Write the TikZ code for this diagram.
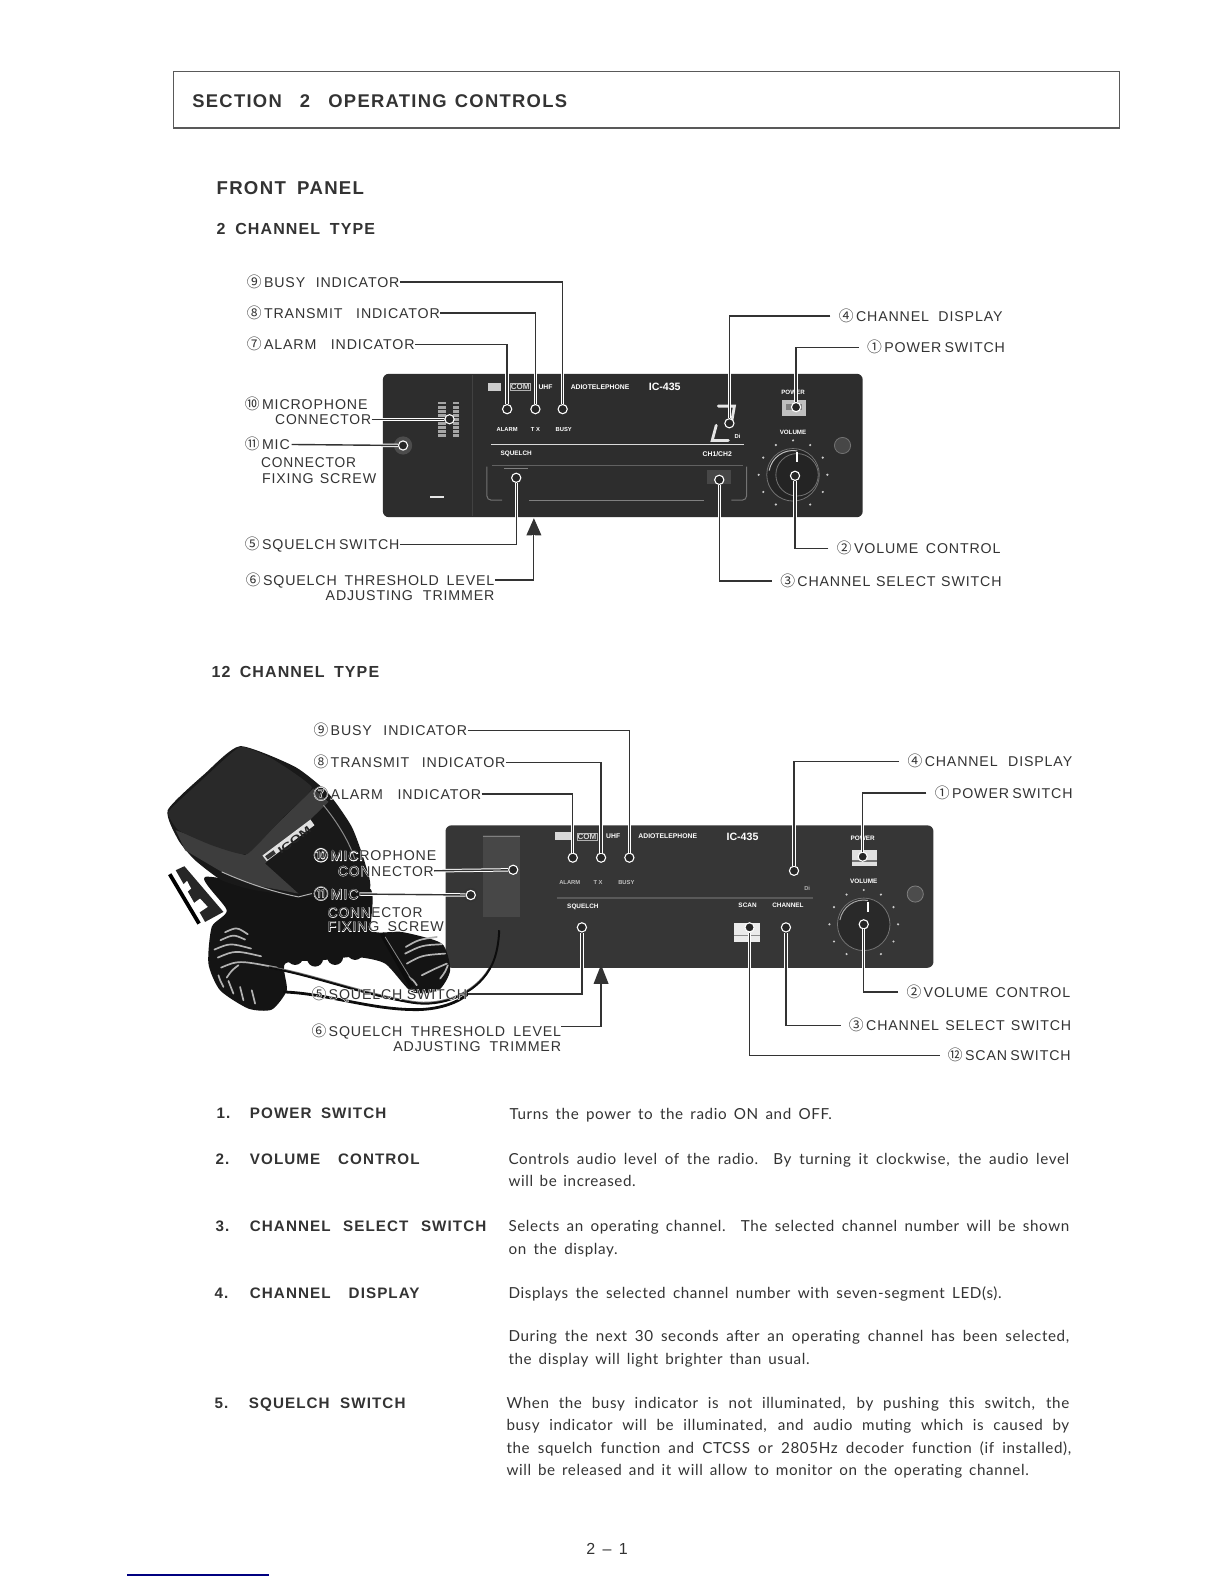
\documentclass[tikz,border=0pt]{standalone}
\usepackage{fontspec}
\usepackage{graphicx}
\setmainfont{Liberation Sans}
\newfontfamily\lfont[LetterSpace=6]{Liberation Sans}
\newfontfamily\hfont[LetterSpace=6,FakeBold=5]{Liberation Sans}
\newfontfamily\bfontx[LetterSpace=7]{Liberation Sans Bold}
\newfontfamily\pfontx{Liberation Sans Bold}
\newfontfamily\bodyf[LetterSpace=4]{Lato}
\newfontfamily\dfont{Noto Sans CJK JP}
\newfontfamily\dhfont[FakeBold=5]{Noto Sans CJK JP}
\newdimen\upx \upx=0.50495pt
\newcommand{\cdf}{\dfont\fontsize{7.4}{9}\selectfont}
\newcommand{\cdh}{\dhfont\fontsize{7.4}{9}\selectfont}
\newcommand{\cd}[1]{\makebox[17\upx][l]{\cdf #1}}
\newcommand{\fit}[2]{\makebox[#1\upx][s]{#2}}
\newcommand{\fitone}[2]{\resizebox{#1\upx}{\height}{#2}}
\definecolor{ink}{HTML}{333333}
\definecolor{pan}{HTML}{2D2D2D}
\definecolor{pan2}{HTML}{363636}
\definecolor{seam}{HTML}{414141}
\tikzset{
 lab/.style={font=\lfont\fontsize{7.1}{9}\selectfont,text=ink,inner sep=0pt,text height=5.2pt,text depth=0pt},
 halo/.style={font=\hfont\fontsize{7.1}{9}\selectfont\let\cdf\cdh,text=white,inner sep=0pt,text height=5.2pt,text depth=0pt},
 head/.style={font=\bfontx\fontsize{7.6}{9}\selectfont,text=ink,inner sep=0pt,text height=5.5pt,text depth=0pt,anchor=west},
 body/.style={font=\bodyf\fontsize{7.6}{9}\selectfont,text=ink,inner sep=0pt,text height=5.4pt,text depth=0pt,anchor=west},
 ptx/.style={font=\pfontx\fontsize{2.9}{3}\selectfont,text=white,inner sep=0pt},
 pinp/.style={circle,fill=black!85,draw=white,line width=.55pt,minimum size=4.6pt,inner sep=0pt},
 lead/.style={draw=ink,line width=.7pt,preaction={draw=white,line width=1.7pt}},
 stripe/.style={draw=black!30,line width=.85pt,line cap=round},
}
\newcommand{\clab}[6]{\pgfmathsetmacro\tw{#3-#2-17}\node[lab,anchor=west] (#1) at (#2,#4) {\cd{#5}\fit{\tw}{#6}};}
\newcommand{\hclab}[6]{\pgfmathsetmacro\tw{#3-#2-17}\node[halo,anchor=west] (#1h) at (#2,#4) {\cd{#5}\fit{\tw}{#6}};\node[lab,anchor=west] (#1) at (#2,#4) {\cd{#5}\fit{\tw}{#6}};}
\newcommand{\plab}[5]{\pgfmathsetmacro\tw{#3-#2}\node[lab,anchor=west] (#1) at (#2,#4) {\fit{\tw}{#5}};}
\newcommand{\plabo}[5]{\pgfmathsetmacro\tw{#3-#2}\node[lab,anchor=west] (#1) at (#2,#4) {\fitone{\tw}{#5}};}
\newcommand{\hplab}[5]{\pgfmathsetmacro\tw{#3-#2}\node[halo,anchor=west] (#1h) at (#2,#4) {\fit{\tw}{#5}};\node[lab,anchor=west] (#1) at (#2,#4) {\fit{\tw}{#5}};}
\newcommand{\hplabo}[5]{\pgfmathsetmacro\tw{#3-#2}\node[halo,anchor=west] (#1h) at (#2,#4) {\fitone{\tw}{#5}};\node[lab,anchor=west] (#1) at (#2,#4) {\fitone{\tw}{#5}};}
\newcommand{\btxt}[5]{\pgfmathsetmacro\tw{#3-#2}\node[body] (#1) at (#2,#4) {\fit{\tw}{#5}};}
\newcommand{\htxt}[5]{\pgfmathsetmacro\tw{#3-#2}\node[head] (#1) at (#2,#4) {\fit{\tw}{#5}};}
\begin{document}
\begin{tikzpicture}[x=0.50495pt,y=-0.50495pt]
\useasboundingbox (0,0) rectangle (1212,1568);
\fill[white] (0,0) rectangle (1212,1568);
% header
\node[draw=black!65,line width=.6pt,minimum width=473pt,minimum height=28.3pt,inner sep=0pt,anchor=north west] (hdrbox) at (171,70) {};
\node[head,font=\bfontx\fontsize{9.2}{12}\selectfont,text height=6.6pt] (hdr) at (190,100) {\fit{371}{SECTION\hskip .9em plus 1fil 2\hskip .9em plus 1fil OPERATING\hskip .4em plus .5fil CONTROLS}};
\node[head,font=\bfontx\fontsize{9.3}{12}\selectfont,text height=6.6pt] (fp) at (214,186) {\fit{146}{FRONT PANEL}};
\node[head,font=\bfontx\fontsize{8}{12}\selectfont,text height=5.8pt] (ch2) at (214,226) {\fit{157}{2 CHANNEL TYPE}};
\node[head,font=\bfontx\fontsize{8}{12}\selectfont,text height=5.8pt] (ch12) at (209,665) {\fit{166}{12 CHANNEL TYPE}};

% ================= PANEL 1
\fill[pan,rounded corners=3pt] (379,370) rectangle (854,512);
\draw[seam,line width=.4pt] (468,371) -- (468,511);
\draw[black!55,line width=.5pt,rounded corners=2pt] (482,462) -- (482,495) -- (497,495);
\draw[black!55,line width=.5pt,rounded corners=2pt] (739,462) -- (739,495) -- (724,495);
\draw[black!50,line width=.5pt] (524,495) -- (697,495);
\draw[black!62,line width=.4pt] (487,461) -- (735,461);
\draw[black!15,line width=.9pt] (486,440) -- (736,440);
\fill[black!20] (483,379) rectangle (496,387);
\node[font=\pfontx\fontsize{4}{4}\selectfont,text=white!85!black,draw=white!70!black,line width=.2pt,inner sep=.3pt] (logo1) at (515,383) {COM};
\node[ptx,font=\pfontx\fontsize{3.4}{4}\selectfont] (uhf1) at (540,383) {UHF};
\node[ptx,font=\pfontx\fontsize{3.4}{4}\selectfont] (rad1) at (594,383) {ADIOTELEPHONE};
\node[ptx,font=\pfontx\fontsize{5.3}{6}\selectfont] (ic1) at (658,383) {IC-435};
\node[ptx] (al1) at (502,425) {ALARM};
\node[ptx] (tx1) at (530,425) {T X};
\node[ptx] (bu1) at (558,425) {BUSY};
\node[ptx,font=\pfontx\fontsize{3.2}{4}\selectfont] (sq1) at (511,449) {SQUELCH};
\node[ptx,font=\pfontx\fontsize{3.4}{4}\selectfont] (cc1) at (710,450) {CH1/CH2};
\node[ptx,font=\pfontx\fontsize{3.1}{4}\selectfont] (pw1) at (785,388) {POWER};
\node[ptx,font=\pfontx\fontsize{3.1}{4}\selectfont] (vo1) at (785,428) {VOLUME};
\node[ptx] (di1) at (730,432) {Di};
% vents
\foreach \y in {398,402,...,430}{\fill[black!35] (434,\y) rectangle (441,\y+2.4);\fill[black!35] (448,\y) rectangle (454,\y+2.4);}
\fill[black!10] (426,491) rectangle (440,492.5);
% digit
\draw[white!90!black,line width=1.4pt,line cap=round] (711,402) -- (727,402) -- (724,419);
\draw[white!90!black,line width=1.4pt,line cap=round] (709,421) -- (705,436) -- (721,436);
% power button
\fill[black!25] (774,396) rectangle (798,412);
\fill[black!50] (778,400) rectangle (794,406);
% knob
\fill[black!86] (785,470) circle (26);
\draw[black!55,line width=.4pt] (785,470) circle (26);
\draw[black!25,line width=.5pt] (761.4,465.8) arc (190:280:24);
\draw[black!55,line width=.4pt] (789,470) circle (21);
\draw[white,line width=1pt] (789,447) -- (789,457);
\foreach \a in {-90,-60,-30,0,30,60,120,150,180,-150,-120}{\fill[white!80!black] (785,470) ++(\a:34) circle (1.2);}
% screws
\fill[black!70] (399,441) circle (9);
\fill[black!72] (834,441) circle (8);
\draw[black!55,line width=.4pt] (834,441) circle (8);
\fill[black!72] (700,465) rectangle (724,479);
\draw[black!50,line width=.4pt] (499,464) -- (523,464);
% pins
\node[pinp] (a9) at (557,405) {};
\node[pinp] (a8) at (530,405) {};
\node[pinp] (a7) at (502,405) {};
\node[pinp] (a10) at (445,415) {};
\node[pinp] (a11) at (399,441) {};
\node[pinp] (a5) at (511,473) {};
\node[pinp] (a4) at (722,419) {};
\node[pinp] (a1) at (788,403) {};
\node[pinp] (a2) at (787,471) {};
\node[pinp] (a3) at (712,475) {};
\coordinate (a6) at (528,530);
\fill[ink] (528.5,513) -- (536,530) -- (521,530) -- cycle;
% labels panel 1
\clab{l9}{244}{395}{279}{⑨}{BUSY INDICATOR}
\clab{l8}{244}{435}{310}{⑧}{TRANSMIT INDICATOR}
\clab{l7}{244}{410}{341}{⑦}{ALARM INDICATOR}
\clab{l10}{242}{361}{400}{⑩}{MICROPHONE\hskip 0pt plus 1fil}
\plabo{l10b}{272}{367}{415}{CONNECTOR}
\clab{l11}{242}{288}{440}{⑪}{MIC\hskip 0pt plus 1fil}
\plabo{l11b}{258}{352}{458}{CONNECTOR}
\plab{l11c}{259}{372}{473}{FIXING SCREW}
\clab{l5}{242}{395}{539}{⑤}{SQUELCH SWITCH}
\clab{l6}{243}{489}{574}{⑥}{SQUELCH THRESHOLD LEVEL}
\plab{l6b}{322}{489}{589}{ADJUSTING TRIMMER}
\clab{l4}{830}{992}{313}{④}{CHANNEL DISPLAY}
\clab{l1}{858}{992}{344}{①}{POWER SWITCH}
\clab{l2}{828}{990}{543}{②}{VOLUME CONTROL}
\clab{l3}{772}{991}{575}{③}{CHANNEL SELECT SWITCH}
% connectors panel 1
\draw[lead] (l9.east) -| (a9);
\draw[lead] (l8.east) -| (a8);
\draw[lead] (l7.east) -| (a7);
\draw[lead] (l10b.east) -- (a10);
\draw[lead] (l11.east) -- (a11);
\draw[lead] (l5.east) -| (a5);
\draw[lead] (l6.east) -| (a6);
\draw[lead] ([xshift=-4pt]l4.west) -| (a4);
\draw[lead] ([xshift=-4pt]l1.west) -| (a1);
\draw[lead] ([xshift=-4pt]l2.west) -| (a2);
\draw[lead] ([xshift=-4pt]l3.west) -| (a3);

% ================= PANEL 2
\fill[pan2,rounded corners=3pt] (441,817) rectangle (924,958);
\fill[black!72] (478,827) rectangle (515,908);
\draw[black!50,line width=.6pt] (478,828) -- (515,828);
\fill[black!15] (549,824) rectangle (566,832);
\node[font=\pfontx\fontsize{4}{4}\selectfont,text=white!85!black,draw=white!70!black,line width=.2pt,inner sep=.3pt] (logo2) at (581,828) {COM};
\node[ptx,font=\pfontx\fontsize{3.4}{4}\selectfont] (uhf2) at (607,828) {UHF};
\node[ptx,font=\pfontx\fontsize{3.4}{4}\selectfont] (rad2) at (661,828) {ADIOTELEPHONE};
\node[ptx,font=\pfontx\fontsize{5.3}{6}\selectfont] (ic2) at (735,828) {IC-435};
\node[ptx,text=black!25] (al2) at (564,874) {ALARM};
\node[ptx,text=black!25] (tx2) at (592,874) {T X};
\node[ptx,text=black!25] (bu2) at (620,874) {BUSY};
\node[ptx,font=\pfontx\fontsize{3.2}{4}\selectfont] (sq2) at (577,898) {SQUELCH};
\node[ptx,font=\pfontx\fontsize{3.2}{4}\selectfont] (sc2) at (740,896) {SCAN};
\node[ptx,font=\pfontx\fontsize{3.2}{4}\selectfont] (ch2l) at (780,896) {CHANNEL};
\node[ptx,font=\pfontx\fontsize{3.2}{4}\selectfont] (pw2) at (854,830) {POWER};
\node[ptx,font=\pfontx\fontsize{3.2}{4}\selectfont] (vo2) at (855,872) {VOLUME};
\node[ptx,text=black!30] (di2) at (799,879) {Di};
\draw[black!65,line width=.8pt] (551,889) -- (805,889);
\fill[black!12] (843,841) rectangle (868,857);
\fill[black!55] (843,851) rectangle (868,853);
\fill[black!8] (727,914) rectangle (752,932);
\fill[black!45] (727,926) rectangle (752,927);
\fill[black!84] (855,915) circle (26);
\draw[black!55,line width=.4pt] (855,915) circle (26);
\draw[black!35,line width=.5pt] (831.4,910.8) arc (190:280:24);
\draw[white,line width=1pt] (859,893) -- (859,903);
\foreach \a in {-90,-60,-30,0,30,60,120,150,180,-150,-120}{\fill[white!80!black] (855,915) ++(\a:34) circle (1.2);}
\fill[black!70] (906,885) circle (8);
\draw[black!50,line width=.4pt] (906,885) circle (8);
\fill[black!80] (466,886) circle (7);

% ----- microphone, in 1/3 px units of the full size image
\begin{scope}[shift={(153.5,722.8)},x=.16667pt,y=-.16667pt]
 % bracket
 \fill[black!85] (62,420) -- (88,408) -- (205,545) -- (150,575) -- cycle;
 \draw[black,line width=1.9pt] (44,432) -- (132,580);
 \fill[white] (108,525) -- (135,505) -- (158,530) -- (128,550) -- cycle;
 \fill[white] (82,465) -- (96,452) -- (108,475) -- (94,487) -- cycle;
 % under mass
 \fill[black!92] plot[smooth cycle,tension=.4] coordinates {(150,440) (400,480) (640,470) (650,600) (740,605) (860,640) (885,720) (850,780) (770,785) (690,700) (600,680) (500,690) (390,700) (395,780) (350,838) (280,835) (195,780) (160,700) (170,590) (215,540)};
 \foreach \cx/\cy in {420/680,480/685,540/680,600/665}{\fill[black!92] (\cx,\cy) circle (24);}
 % head
 \fill[black!90] plot[smooth cycle,tension=.35] coordinates {(38,240) (150,130) (255,48) (420,110) (520,190) (590,290) (630,400) (640,480) (470,500) (300,480) (200,450) (120,390) (70,330)};
 % band
 \fill[black!76] (62,300) -- (270,375) -- (475,175) -- (520,215) -- (330,400) -- (430,490) -- (300,465) -- (200,425) -- (90,360) -- cycle;
 \draw[black!30,line width=.5pt] (200,425) .. controls (300,470) and (380,490) .. (430,500) -- (470,490);
 \draw[black!45,line width=.5pt] (505,225) .. controls (550,280) and (585,340) .. (600,390);
 % grille
 \fill[black!84] plot[smooth cycle,tension=.25] coordinates {(40,245) (140,150) (255,50) (350,85) (470,172) (380,265) (275,372) (170,345) (70,300)};
 % badge
 \fill[black!12] (322,376) -- (466,268) -- (478,285) -- (335,393) -- cycle;
 \fill[black!80] (330,378) -- (355,360) -- (362,370) -- (338,388) -- cycle;
 \node[font=\pfontx\fontsize{5}{5}\selectfont,text=black!85,rotate=37,inner sep=0pt] (micbrand) at (418,330) {\fitone{38}{ICOM}};
 % coil stripes
 \foreach \xa/\ya/\xb/\yb/\xc/\yc in {210/606/245/590/278/612,196/630/235/612/270/628,178/658/225/638/288/655,188/682/240/660/318/678,198/712/250/690/365/712,215/742/230/720/250/705,190/735/195/750/205/770,220/752/225/770/235/790,255/770/260/790/265/810,290/780/295/800/300/820}
  {\draw[stripe] (\xa,\ya) .. controls (\xb,\yb) .. (\xc,\yc);}
 \foreach \xa/\ya/\xb/\yb/\xc/\yc in {752/650/790/628/845/620,750/670/800/645/860/642,755/700/800/675/870/670,800/735/840/715/875/700,855/745/870/725/878/705,760/740/775/750/785/765}
  {\draw[stripe] (\xa,\ya) .. controls (\xb,\yb) .. (\xc,\yc);}
 % long cord and cable
 \draw[black!55,line width=1.2pt] (340,710) .. controls (480,735) and (620,790) .. (770,815) .. controls (860,830) and (960,790) .. (1003,715);
 \draw[black!95,line width=1pt] (340,712) .. controls (480,737) and (620,792) .. (770,817) .. controls (860,832) and (960,792) .. (1003,717) .. controls (1020,690) and (1030,650) .. (1032,600);
 \draw[black!95,line width=1.4pt] (385,785) .. controls (520,790) and (650,840) .. (790,838) .. controls (860,836) and (910,815) .. (940,790);
 \draw[black!95,line width=2.3pt] (680,610) -- (770,770);
 \draw[black!45,line width=.4pt] (690,620) -- (770,750);
\end{scope}

% pins panel 2
\node[pinp] (b9) at (623,849) {};
\node[pinp] (b8) at (595,849) {};
\node[pinp] (b7) at (567,849) {};
\node[pinp] (b10) at (508,861) {};
\node[pinp] (b11) at (466,886) {};
\node[pinp] (b5) at (576,918) {};
\node[pinp] (b4) at (786,862) {};
\node[pinp] (b1) at (854,848) {};
\node[pinp] (b2) at (855,915) {};
\node[pinp] (b3) at (778,918) {};
\node[pinp] (b12) at (742,918) {};
\coordinate (b6) at (595,974);
\fill[ink] (595,955) -- (602.5,974) -- (587.5,974) -- cycle;
% labels panel 2
\clab{m9}{310}{462}{723}{⑨}{BUSY INDICATOR}
\clab{m8}{310}{500}{755}{⑧}{TRANSMIT INDICATOR}
\hclab{m7}{310}{476}{786}{⑦}{ALARM INDICATOR}
\hclab{m10}{310}{427}{847}{⑩}{MICROPHONE\hskip 0pt plus 1fil}
\hplabo{m10b}{334}{429}{862}{CONNECTOR}
\hclab{m11}{310}{355}{885}{⑪}{MIC\hskip 0pt plus 1fil}
\hplabo{m11b}{324}{418}{903}{CONNECTOR}
\hplab{m11c}{324}{439}{917}{FIXING SCREW}
\hclab{m5}{308}{462}{984}{⑤}{SQUELCH SWITCH}
\clab{m6}{308}{555}{1021}{⑥}{SQUELCH THRESHOLD LEVEL}
\plab{m6b}{389}{555}{1036}{ADJUSTING TRIMMER}
\clab{m4}{898}{1061}{754}{④}{CHANNEL DISPLAY}
\clab{m1}{925}{1059}{785}{①}{POWER SWITCH}
\clab{m2}{897}{1059}{982}{②}{VOLUME CONTROL}
\clab{m3}{840}{1060}{1015}{③}{CHANNEL SELECT SWITCH}
\clab{m12}{938}{1059}{1045}{⑫}{SCAN SWITCH}
% connectors panel 2
\draw[lead] (m9.east) -| (b9);
\draw[lead] (m8.east) -| (b8);
\draw[lead] (m7.east) -| (b7);
\draw[lead] (m10b.east) -- (b10);
\draw[lead] (m11.east) -- (b11);
\draw[lead] (m5.east) -| (b5);
\draw[lead] ([yshift=2.5pt]m6.east) -| (b6);
\draw[lead] ([xshift=-4pt]m4.west) -| (b4);
\draw[lead] ([xshift=-4pt]m1.west) -| (b1);
\draw[lead] ([xshift=-4pt]m2.west) -| (b2);
\draw[lead] ([xshift=-4pt]m3.west) -| (b3);
\draw[lead] ([xshift=-4pt]m12.west) -| (b12);

% descriptions
\htxt{n1}{214}{226}{1102}{1.}
\htxt{t1}{247}{382}{1102}{POWER SWITCH}
\htxt{n2}{213}{225}{1147}{2.}
\htxt{t2}{247}{415}{1147}{VOLUME CONTROL}
\htxt{n3}{213}{225}{1214}{3.}
\htxt{t3}{247}{481}{1214}{CHANNEL SELECT SWITCH}
\htxt{n4}{212}{224}{1280}{4.}
\htxt{t4}{247}{415}{1280}{CHANNEL DISPLAY}
\htxt{n5}{212}{224}{1389}{5.}
\htxt{t5}{246}{401}{1389}{SQUELCH SWITCH}
\btxt{b1a}{504}{823}{1103}{Turns the power to the radio ON and OFF.}
\btxt{b2a}{503}{1058}{1147}{Controls audio level of the radio.\hskip 1em By turning it clockwise, the audio level}
\btxt{b2b}{503}{629}{1169}{will be increased.}
\btxt{b3a}{503}{1058}{1214}{Selects an operating channel.\hskip 1em The selected channel number will be shown}
\btxt{b3b}{503}{611}{1236}{on the display.}
\btxt{b4a}{503}{991}{1280}{Displays the selected channel number with seven-segment LED(s).}
\btxt{b4b}{503}{1058}{1323}{During the next 30 seconds after an operating channel has been selected,}
\btxt{b4c}{503}{801}{1345}{the display will light brighter than usual.}
\btxt{b5a}{501}{1058}{1389}{When the busy indicator is not illuminated, by pushing this switch, the}
\btxt{b5b}{501}{1058}{1411}{busy indicator will be illuminated, and audio muting which is caused by}
\btxt{b5c}{501}{1060}{1433}{the squelch function and CTCSS or 2805Hz decoder function (if installed),}
\btxt{b5d}{501}{1018}{1455}{will be released and it will allow to monitor on the operating channel.}
% footer
\node[body,font=\lfont\fontsize{8}{9}\selectfont] (pg) at (580,1533) {\fit{41}{2 – 1}};
\draw[blue!50!black,line width=.6pt] (126,1559) -- (266,1559);
\end{tikzpicture}
\end{document}
